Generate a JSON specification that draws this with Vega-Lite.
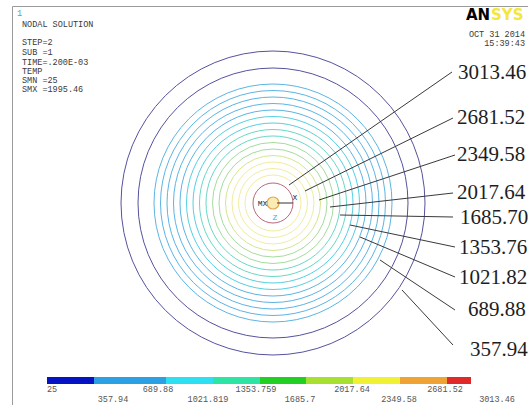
{
  "$schema": "https://vega.github.io/schema/vega-lite/v6.json",
  "width": 516,
  "height": 399,
  "autosize": {"type": "none"},
  "padding": {"left": 12, "top": 6, "right": 0, "bottom": 0},
  "background": "white",
  "config": {"view": {"stroke": "#9a9a9a", "strokeWidth": 1}},
  "datasets": {
    "contours": [
      {"r": 152, "level": 1}, {"r": 135, "level": 1},
      {"r": 119, "level": 2}, {"r": 112.5, "level": 2}, {"r": 106, "level": 2}, {"r": 99.5, "level": 2}, {"r": 93, "level": 2},
      {"r": 86.5, "level": 3}, {"r": 80, "level": 3},
      {"r": 73.5, "level": 4}, {"r": 67, "level": 4},
      {"r": 60.5, "level": 5}, {"r": 54, "level": 5},
      {"r": 47.5, "level": 6},
      {"r": 41, "level": 7}, {"r": 34.5, "level": 7}, {"r": 28, "level": 7},
      {"r": 20, "level": 8}
    ],
    "core": [{"r": 6}],
    "leaders": [
      {"label": "3013.46", "x1": 16, "y1": 18, "x2": 179, "y2": 131, "tx": 185, "ty": 130},
      {"label": "2681.52", "x1": 32, "y1": 12, "x2": 180, "y2": 85, "tx": 184, "ty": 85},
      {"label": "2349.58", "x1": 46, "y1": 3, "x2": 182, "y2": 48, "tx": 184, "ty": 48},
      {"label": "2017.64", "x1": 57, "y1": -4, "x2": 180, "y2": 10, "tx": 184, "ty": 10},
      {"label": "1685.70", "x1": 67, "y1": -12, "x2": 180, "y2": -14, "tx": 187, "ty": -15},
      {"label": "1353.76", "x1": 77, "y1": -22, "x2": 182, "y2": -44, "tx": 186, "ty": -45},
      {"label": "1021.82", "x1": 87, "y1": -34, "x2": 182, "y2": -74, "tx": 186, "ty": -75},
      {"label": "689.88", "x1": 107, "y1": -57, "x2": 182, "y2": -107, "tx": 195, "ty": -107},
      {"label": "357.94", "x1": 129, "y1": -87, "x2": 180, "y2": -142, "tx": 197, "ty": -147}
    ],
    "triadText": [
      {"t": "X", "x": 22, "y": 5.5, "c": "dark"},
      {"t": "MX", "x": -10.5, "y": -1, "c": "dark"},
      {"t": "Z", "x": 2, "y": -15, "c": "blue"}
    ],
    "info": [
      {"t": "NODAL SOLUTION", "x": -251, "y": 179},
      {"t": "STEP=2", "x": -251, "y": 161},
      {"t": "SUB =1", "x": -251, "y": 151},
      {"t": "TIME=.200E-03", "x": -251, "y": 141},
      {"t": "TEMP", "x": -251, "y": 132},
      {"t": "SMN =25", "x": -251, "y": 123},
      {"t": "SMX =1995.46", "x": -251, "y": 114}
    ],
    "winNo": [{"t": "1", "x": -256, "y": 190}],
    "stamp": [
      {"t": "OCT 31 2014", "x": 252, "y": 169},
      {"t": "15:39:43", "x": 252, "y": 160}
    ],
    "logoA": [{"t": "AN", "x": 193, "y": 188}],
    "logoB": [{"t": "SYS", "x": 218, "y": 188}],
    "bands": [
      {"lo": 25, "hi": 357.94, "band": 1},
      {"lo": 357.94, "hi": 689.88, "band": 2},
      {"lo": 689.88, "hi": 1021.819, "band": 3},
      {"lo": 1021.819, "hi": 1353.759, "band": 4},
      {"lo": 1353.759, "hi": 1685.7, "band": 5},
      {"lo": 1685.7, "hi": 2017.64, "band": 6},
      {"lo": 2017.64, "hi": 2349.58, "band": 7},
      {"lo": 2349.58, "hi": 2681.52, "band": 8},
      {"lo": 2681.52, "hi": 3013.46, "band": 9}
    ],
    "ticks": [
      {"value": 25, "tier": 1},
      {"value": 357.94, "tier": 2},
      {"value": 689.88, "tier": 1},
      {"value": 1021.819, "tier": 2},
      {"value": 1353.759, "tier": 1},
      {"value": 1685.7, "tier": 2},
      {"value": 2017.64, "tier": 1},
      {"value": 2349.58, "tier": 2},
      {"value": 2681.52, "tier": 1},
      {"value": 3013.46, "tier": 2}
    ]
  },
  "resolve": {"scale": {"x": "independent"}},
  "layer": [
    {
      "layer": [
        {
          "data": {"name": "contours"},
          "mark": {"type": "point", "shape": "circle", "filled": false, "strokeWidth": 1, "opacity": 1},
          "encoding": {
            "x": {"datum": 0, "type": "quantitative", "scale": {"domain": [-261, 255], "nice": false, "zero": false}, "axis": null},
            "y": {"datum": 0, "type": "quantitative", "scale": {"domain": [-202, 197], "nice": false, "zero": false}, "axis": null},
            "size": {"field": "r", "type": "quantitative", "scale": {"type": "pow", "exponent": 2, "domain": [0, 150], "range": [0, 90000]}, "legend": null},
            "stroke": {"field": "level", "type": "ordinal", "scale": {"domain": [1, 2, 3, 4, 5, 6, 7, 8], "range": ["#55529e", "#5cb4e4", "#55cfe2", "#68d8c4", "#a4dc9c", "#d4e68e", "#f2eca0", "#b8687a"]}, "legend": null}
          }
        },
        {
          "data": {"name": "core"},
          "mark": {"type": "point", "shape": "circle", "filled": true, "fill": "#f8ecb4", "stroke": "#e8a552", "strokeWidth": 1.2, "opacity": 1},
          "encoding": {
            "x": {"datum": 0, "type": "quantitative", "scale": {"domain": [-261, 255], "nice": false, "zero": false}, "axis": null},
            "y": {"datum": 0, "type": "quantitative", "scale": {"domain": [-202, 197], "nice": false, "zero": false}, "axis": null},
            "size": {"field": "r", "type": "quantitative", "scale": {"type": "pow", "exponent": 2, "domain": [0, 150], "range": [0, 90000]}, "legend": null}
          }
        },
        {
          "data": {"name": "leaders"},
          "mark": {"type": "rule", "color": "#3a3a3a", "strokeWidth": 1},
          "encoding": {
            "x": {"field": "x1", "type": "quantitative", "scale": {"domain": [-261, 255], "nice": false, "zero": false}, "axis": null},
            "y": {"field": "y1", "type": "quantitative", "scale": {"domain": [-202, 197], "nice": false, "zero": false}, "axis": null},
            "x2": {"field": "x2"},
            "y2": {"field": "y2"}
          }
        },
        {
          "data": {"name": "leaders"},
          "mark": {"type": "text", "align": "left", "baseline": "middle", "font": "Liberation Serif", "fontSize": 21, "color": "#1e1e1e"},
          "encoding": {
            "x": {"field": "tx", "type": "quantitative", "scale": {"domain": [-261, 255], "nice": false, "zero": false}, "axis": null},
            "y": {"field": "ty", "type": "quantitative", "scale": {"domain": [-202, 197], "nice": false, "zero": false}, "axis": null},
            "text": {"field": "label", "type": "nominal"}
          }
        },
        {
          "data": {"values": [{"axis": "X"}]},
          "mark": {"type": "rule", "color": "#333333", "strokeWidth": 1},
          "encoding": {
            "x": {"datum": 4, "type": "quantitative", "scale": {"domain": [-261, 255], "nice": false, "zero": false}, "axis": null},
            "x2": {"datum": 20},
            "y": {"datum": 0, "type": "quantitative", "scale": {"domain": [-202, 197], "nice": false, "zero": false}, "axis": null}
          }
        },
        {
          "data": {"name": "triadText"},
          "mark": {"type": "text", "align": "center", "baseline": "middle", "font": "Liberation Mono", "fontSize": 8},
          "encoding": {
            "x": {"field": "x", "type": "quantitative", "scale": {"domain": [-261, 255], "nice": false, "zero": false}, "axis": null},
            "y": {"field": "y", "type": "quantitative", "scale": {"domain": [-202, 197], "nice": false, "zero": false}, "axis": null},
            "text": {"field": "t", "type": "nominal"},
            "color": {"field": "c", "type": "nominal", "scale": {"domain": ["dark", "blue"], "range": ["#333333", "#4aa6e0"]}, "legend": null}
          }
        },
        {
          "data": {"name": "info"},
          "mark": {"type": "text", "align": "left", "baseline": "middle", "font": "Liberation Mono", "fontSize": 8.5, "color": "#3a3a3a"},
          "encoding": {
            "x": {"field": "x", "type": "quantitative", "scale": {"domain": [-261, 255], "nice": false, "zero": false}, "axis": null},
            "y": {"field": "y", "type": "quantitative", "scale": {"domain": [-202, 197], "nice": false, "zero": false}, "axis": null},
            "text": {"field": "t", "type": "nominal"}
          }
        },
        {
          "data": {"name": "winNo"},
          "mark": {"type": "text", "align": "left", "baseline": "middle", "font": "Liberation Mono", "fontSize": 8.5, "color": "#4aa3d8"},
          "encoding": {
            "x": {"field": "x", "type": "quantitative", "scale": {"domain": [-261, 255], "nice": false, "zero": false}, "axis": null},
            "y": {"field": "y", "type": "quantitative", "scale": {"domain": [-202, 197], "nice": false, "zero": false}, "axis": null},
            "text": {"field": "t", "type": "nominal"}
          }
        },
        {
          "data": {"name": "stamp"},
          "mark": {"type": "text", "align": "right", "baseline": "middle", "font": "Liberation Mono", "fontSize": 8.5, "color": "#3a3a3a"},
          "encoding": {
            "x": {"field": "x", "type": "quantitative", "scale": {"domain": [-261, 255], "nice": false, "zero": false}, "axis": null},
            "y": {"field": "y", "type": "quantitative", "scale": {"domain": [-202, 197], "nice": false, "zero": false}, "axis": null},
            "text": {"field": "t", "type": "nominal"}
          }
        },
        {
          "data": {"name": "logoA"},
          "mark": {"type": "text", "align": "left", "baseline": "middle", "font": "DejaVu Sans", "fontWeight": "bold", "fontSize": 15, "color": "#000000"},
          "encoding": {
            "x": {"field": "x", "type": "quantitative", "scale": {"domain": [-261, 255], "nice": false, "zero": false}, "axis": null},
            "y": {"field": "y", "type": "quantitative", "scale": {"domain": [-202, 197], "nice": false, "zero": false}, "axis": null},
            "text": {"field": "t", "type": "nominal"}
          }
        },
        {
          "data": {"name": "logoB"},
          "mark": {"type": "text", "align": "left", "baseline": "middle", "font": "DejaVu Sans", "fontWeight": "bold", "fontSize": 15, "color": "#f4e640"},
          "encoding": {
            "x": {"field": "x", "type": "quantitative", "scale": {"domain": [-261, 255], "nice": false, "zero": false}, "axis": null},
            "y": {"field": "y", "type": "quantitative", "scale": {"domain": [-202, 197], "nice": false, "zero": false}, "axis": null},
            "text": {"field": "t", "type": "nominal"}
          }
        }
      ]
    },
    {
      "data": {"name": "bands"},
      "mark": {"type": "rect"},
      "encoding": {
        "x": {"field": "lo", "type": "quantitative", "scale": {"domain": [25, 357.94, 689.88, 1021.819, 1353.759, 1685.7, 2017.64, 2349.58, 2681.52, 3013.46], "range": [35, 82, 154, 201, 248, 294, 341, 388, 435, 459], "nice": false, "zero": false}, "axis": null},
        "x2": {"field": "hi"},
        "y": {"datum": -174, "type": "quantitative", "scale": {"domain": [-202, 197], "nice": false, "zero": false}, "axis": null},
        "y2": {"datum": -181},
        "fill": {"field": "band", "type": "ordinal", "scale": {"domain": [1, 2, 3, 4, 5, 6, 7, 8, 9], "range": ["#0414c4", "#2ca0e4", "#2ce0f2", "#2ce4a4", "#22d024", "#a8e030", "#f0f034", "#f0a232", "#e02a2a"]}, "legend": null}
      }
    },
    {
      "data": {"name": "ticks"},
      "transform": [{"filter": "datum.tier == 1"}],
      "mark": {"type": "text", "align": "center", "baseline": "middle", "font": "Liberation Mono", "fontSize": 8.5, "color": "#555555"},
      "encoding": {
        "x": {"field": "value", "type": "quantitative", "scale": {"domain": [25, 357.94, 689.88, 1021.819, 1353.759, 1685.7, 2017.64, 2349.58, 2681.52, 3013.46], "range": [40, 101, 146, 196, 244, 288, 340, 387, 433, 485], "nice": false, "zero": false}, "axis": null},
        "y": {"datum": -186, "type": "quantitative", "scale": {"domain": [-202, 197], "nice": false, "zero": false}, "axis": null},
        "text": {"field": "value", "type": "nominal"}
      }
    },
    {
      "data": {"name": "ticks"},
      "transform": [{"filter": "datum.tier == 2"}],
      "mark": {"type": "text", "align": "center", "baseline": "middle", "font": "Liberation Mono", "fontSize": 8.5, "color": "#555555"},
      "encoding": {
        "x": {"field": "value", "type": "quantitative", "scale": {"domain": [25, 357.94, 689.88, 1021.819, 1353.759, 1685.7, 2017.64, 2349.58, 2681.52, 3013.46], "range": [40, 101, 146, 196, 244, 288, 340, 387, 433, 485], "nice": false, "zero": false}, "axis": null},
        "y": {"datum": -196, "type": "quantitative", "scale": {"domain": [-202, 197], "nice": false, "zero": false}, "axis": null},
        "text": {"field": "value", "type": "nominal"}
      }
    }
  ]
}
